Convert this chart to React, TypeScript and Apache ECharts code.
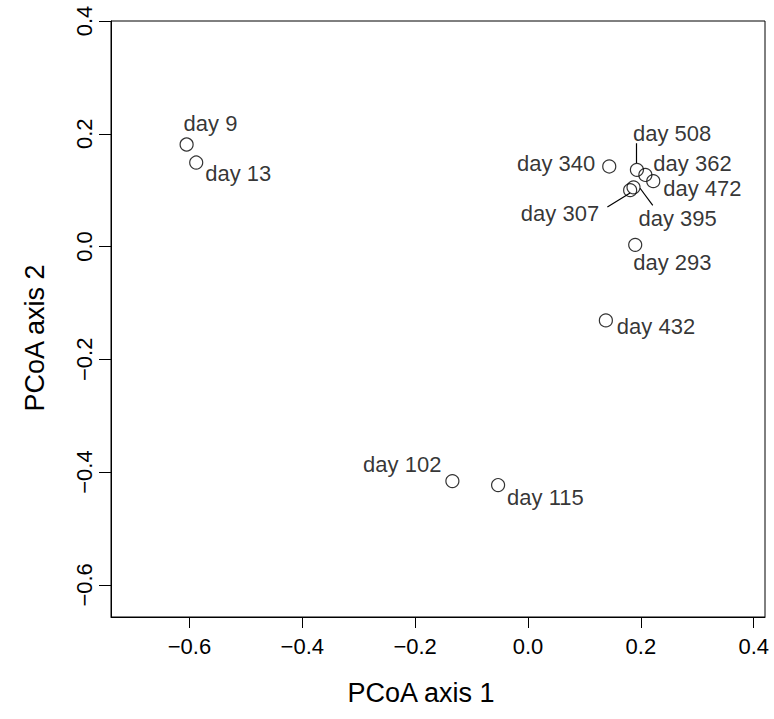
import React, { useEffect, useRef } from "react";
import * as echarts from "echarts";

// Sample names and PCoA coordinates
const names = ["day 9", "day 13", "day 102", "day 115", "day 293", "day 307", "day 340", "day 362", "day 395", "day 432", "day 472", "day 508"];
const pc1 = [-0.605, -0.588, -0.134, -0.053, 0.19, 0.181, 0.144, 0.208, 0.187, 0.138, 0.222, 0.193];
const pc2 = [0.181, 0.149, -0.416, -0.423, 0.003, 0.1, 0.142, 0.127, 0.105, -0.131, 0.116, 0.136];

// Axis ticks
const xTicks = [-0.6, -0.4, -0.2, 0.0, 0.2, 0.4];
const yTicks = [-0.6, -0.4, -0.2, 0.0, 0.2, 0.4];
const xRange = [-0.739, 0.42];
const yRange = [-0.657, 0.4];

// Leader lines (data coordinates) for crowded labels
const leaderLines = [
  [[0.1926, 0.148], [0.1926, 0.183]],
  [[0.1986, 0.1034], [0.2211, 0.0732]],
  [[0.1809, 0.095], [0.1407, 0.0702]],
];

// Label placement (styling): [dx, dy, align]
const labelPlace: Record<string, [number, number, string]> = {
  "day 9": [-3, -21, "left"],
  "day 13": [9, 11, "left"],
  "day 102": [-11, -17, "right"],
  "day 115": [9, 12, "left"],
  "day 293": [-2, 18, "left"],
  "day 307": [-31, 23, "right"],
  "day 340": [-14, -3, "right"],
  "day 362": [8, -11, "left"],
  "day 395": [5, 31, "left"],
  "day 432": [11, 6, "left"],
  "day 472": [10, 7, "left"],
  "day 508": [-4, -36, "left"],
};

const FONT = "'Liberation Sans', Arial, Helvetica, sans-serif";
const TXT = "#000";
const fmt = (v: number) => (v < -1e-9 ? "\u2212" : "") + Math.abs(v).toFixed(1);

export default function App() {
  const ref = useRef<HTMLDivElement>(null);
  useEffect(() => {
    if (!ref.current) return;
    const chart = echarts.init(ref.current, null, { renderer: "svg" });
    const data = names.map((n, i) => {
      const p = labelPlace[n];
      return {
        name: n,
        value: [pc1[i], pc2[i]],
        label: {
          show: true,
          position: "inside",
          offset: [p[0], p[1]],
          align: p[2],
          verticalAlign: "middle",
          formatter: n,
          color: TXT,
          fontSize: 22,
          fontFamily: FONT,
        },
      };
    });
    chart.setOption({
      animation: false,
      backgroundColor: "#fff",
      grid: {
        left: 111,
        right: 9,
        top: 21,
        bottom: 102,
        show: true,
        borderColor: "#000",
        borderWidth: 1,
        outerBoundsMode: "none",
      },
      xAxis: {
        type: "value",
        min: xRange[0],
        max: xRange[1],
        splitLine: { show: false },
        axisLine: { show: true, onZero: false, lineStyle: { color: "#000", width: 1 } },
        axisTick: { show: true, length: 11, customValues: xTicks, lineStyle: { color: "#000", width: 1 } },
        axisLabel: {
          customValues: xTicks,
          formatter: fmt,
          margin: 18,
          color: TXT,
          fontSize: 22,
          fontFamily: FONT,
        },
      },
      yAxis: {
        type: "value",
        min: yRange[0],
        max: yRange[1],
        splitLine: { show: false },
        axisLine: { show: true, onZero: false, lineStyle: { color: "#000", width: 1 } },
        axisTick: { show: true, length: 12, customValues: yTicks, lineStyle: { color: "#000", width: 1 } },
        axisLabel: {
          customValues: yTicks,
          formatter: fmt,
          rotate: 90,
          margin: 16,
          color: TXT,
          fontSize: 22,
          fontFamily: FONT,
        },
      },
      graphic: [
        {
          type: "text",
          x: 421,
          y: 693,
          style: { text: "PCoA axis 1", fontSize: 27, fontFamily: FONT, fill: TXT, align: "center", verticalAlign: "middle" },
        },
        {
          type: "text",
          x: 35,
          y: 338,
          rotation: Math.PI / 2,
          style: { text: "PCoA axis 2", fontSize: 27, fontFamily: FONT, fill: TXT, align: "center", verticalAlign: "middle" },
        },
      ],
      series: [
        {
          type: "scatter",
          symbol: "circle",
          symbolSize: 13,
          itemStyle: { color: "rgba(255,255,255,0)", borderColor: "#000", borderWidth: 1.2 },
          data,
          z: 3,
        },
        {
          type: "lines",
          coordinateSystem: "cartesian2d",
          polyline: false,
          lineStyle: { color: "#000", width: 1.2, opacity: 1 },
          data: leaderLines.map((c) => ({ coords: c })),
          z: 2,
        },
      ],
    });
    return () => chart.dispose();
  }, []);
  return <div ref={ref} style={{ position: "fixed", left: 0, top: 0, width: 774, height: 719 }} />;
}
